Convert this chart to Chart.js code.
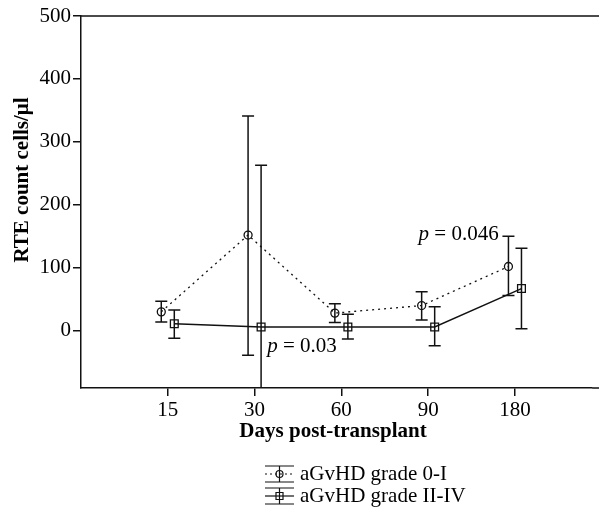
<!DOCTYPE html>
<html>
<head>
<meta charset="utf-8">
<script src="https://cdn.jsdelivr.net/npm/chart.js@4"></script>
<style>
  html, body { margin: 0; padding: 0; background: #fff; }
  #wrap { width: 599px; height: 507px; }
</style>
</head>
<body>
<div id="wrap"><canvas id="chart" width="599" height="507"></canvas></div>
<script>
// categories and values
const days = ['15', '30', '60', '90', '180'];
const yTicks = [0, 100, 200, 300, 400, 500];

const lowMean = [30, 152, 28, 40, 102];
const lowUpper = [47, 341, 43, 62, 150];
const lowLower = [14, -39, 13, 17, 56];

const highMean = [11, 6, 6, 6, 67];
const highUpper = [33, 263, 26, 38, 131];
const highLower = [-12, -251, -13, -24, 3];

const pLabels = [
    { text: '0.03', x: 2.145, y: -25 },
    { text: '0.046', x: 3.89, y: 153 }
];

const serif = '"Liberation Serif", "Times New Roman", serif';
const dodge = 0.075;

function points(means, shift) {
    return means.map((v, i) => ({ x: i + 1 + shift, y: v }));
}

// error bars, frame, titles, p-values and the legend
const extras = {
    id: 'extras',
    beforeDatasetsDraw(chart) {
        const ctx = chart.ctx;
        const xs = chart.scales.x, ys = chart.scales.y;
        const area = chart.chartArea;
        const bars = [
            [lowUpper, lowLower, -dodge],
            [highUpper, highLower, dodge]
        ];
        ctx.save();
        ctx.beginPath();
        ctx.rect(area.left, area.top, area.right - area.left, area.bottom - area.top);
        ctx.clip();
        ctx.strokeStyle = '#111';
        ctx.lineWidth = 1.5;
        bars.forEach(([up, lo, shift]) => {
            up.forEach((u, i) => {
                const px = xs.getPixelForValue(i + 1 + shift);
                const pu = ys.getPixelForValue(u);
                const pl = ys.getPixelForValue(lo[i]);
                ctx.beginPath();
                ctx.moveTo(px, pu); ctx.lineTo(px, pl);
                ctx.moveTo(px - 6, pu); ctx.lineTo(px + 6, pu);
                ctx.moveTo(px - 6, pl); ctx.lineTo(px + 6, pl);
                ctx.stroke();
            });
        });
        ctx.restore();
    },
    afterDraw(chart) {
        const ctx = chart.ctx;
        const xs = chart.scales.x, ys = chart.scales.y;
        const area = chart.chartArea;
        ctx.save();
        // top frame line and the bottom axis run to the edge
        ctx.strokeStyle = '#111';
        ctx.lineWidth = 1.5;
        ctx.beginPath();
        ctx.moveTo(area.left, area.top);
        ctx.lineTo(chart.width, area.top);
        ctx.moveTo(area.right, area.bottom);
        ctx.lineTo(chart.width, area.bottom);
        ctx.stroke();

        ctx.fillStyle = '#000';
        // p values
        ctx.textBaseline = 'middle';
        ctx.textAlign = 'left';
        pLabels.forEach(p => {
            let px = xs.getPixelForValue(p.x);
            const py = ys.getPixelForValue(p.y);
            ctx.font = 'italic 21px ' + serif;
            ctx.fillText('p', px, py);
            px += ctx.measureText('p ').width;
            ctx.font = '21px ' + serif;
            ctx.fillText('= ' + p.text, px, py);
        });

        // axis titles
        ctx.font = 'bold 21px ' + serif;
        ctx.textAlign = 'center';
        ctx.fillText('Days post-transplant', 333, 432);
        ctx.save();
        ctx.translate(23, 180);
        ctx.rotate(-Math.PI / 2);
        ctx.fillText('RTE count cells/\u03bcl', 0, 0);
        ctx.restore();

        // legend
        const rows = [
            { label: 'aGvHD grade 0-I', dash: [2, 3], marker: 'circle' },
            { label: 'aGvHD grade II-IV', dash: [], marker: 'rect' }
        ];
        rows.forEach((r, k) => {
            const cy = 474 + k * 22;
            const x0 = 265, x1 = 294, cx = (x0 + x1) / 2;
            ctx.lineWidth = 1.2;
            ctx.strokeStyle = '#111';
            ctx.setLineDash([]);
            ctx.beginPath();
            ctx.moveTo(x0, cy - 8); ctx.lineTo(x1, cy - 8);
            ctx.moveTo(x0, cy + 8); ctx.lineTo(x1, cy + 8);
            ctx.moveTo(cx, cy - 8); ctx.lineTo(cx, cy + 8);
            ctx.stroke();
            ctx.setLineDash(r.dash);
            ctx.beginPath();
            ctx.moveTo(x0, cy); ctx.lineTo(x1, cy);
            ctx.stroke();
            ctx.setLineDash([]);
            ctx.beginPath();
            if (r.marker === 'circle') ctx.arc(cx, cy, 3.5, 0, Math.PI * 2);
            else ctx.rect(cx - 3.5, cy - 3.5, 7, 7);
            ctx.stroke();
            ctx.font = '21px ' + serif;
            ctx.textAlign = 'left';
            ctx.fillText(r.label, 300, cy);
        });
        ctx.restore();
    }
};

const ctx = document.getElementById('chart').getContext('2d');
new Chart(ctx, {
    type: 'line',
    data: {
        datasets: [
            {
                label: 'aGvHD grade 0-I',
                data: points(lowMean, -dodge),
                borderColor: '#111',
                borderWidth: 1.3,
                borderDash: [2, 4],
                pointStyle: 'circle',
                pointRadius: 4,
                pointBorderWidth: 1.3,
                pointBackgroundColor: 'rgba(0,0,0,0)',
                pointBorderColor: '#111',
                tension: 0
            },
            {
                label: 'aGvHD grade II-IV',
                data: points(highMean, dodge),
                borderColor: '#111',
                borderWidth: 1.4,
                pointStyle: 'rect',
                pointRadius: 5.5,
                pointBorderWidth: 1.3,
                pointBackgroundColor: 'rgba(0,0,0,0)',
                pointBorderColor: '#111',
                tension: 0
            }
        ]
    },
    options: {
        responsive: false,
        animation: false,
        layout: { padding: { top: 16, right: 0, left: 0, bottom: 0 } },
        plugins: {
            legend: { display: false },
            tooltip: { enabled: false }
        },
        scales: {
            x: {
                type: 'linear',
                min: 0,
                max: 5.89,
                afterBuildTicks: s => { s.ticks = days.map((d, i) => ({ value: i + 1 })); },
                afterFit: s => { s.height = 119; },
                ticks: {
                    color: '#000',
                    padding: 2,
                    font: { family: serif, size: 21 },
                    callback: v => days[Math.round(v) - 1]
                },
                grid: { drawOnChartArea: false, drawTicks: true, tickLength: 8, color: '#111', lineWidth: 1.5 },
                border: { display: true, color: '#111', width: 1.5 }
            },
            y: {
                min: -91,
                max: 500,
                afterBuildTicks: s => { s.ticks = yTicks.map(v => ({ value: v })); },
                afterFit: s => { s.width = 81; },
                ticks: {
                    color: '#000',
                    padding: 2,
                    font: { family: serif, size: 21 }
                },
                grid: { drawOnChartArea: false, drawTicks: true, tickLength: 8, color: '#111', lineWidth: 1.5 },
                border: { display: true, color: '#111', width: 1.5 }
            }
        }
    },
    plugins: [extras]
});
</script>
</body>
</html>
